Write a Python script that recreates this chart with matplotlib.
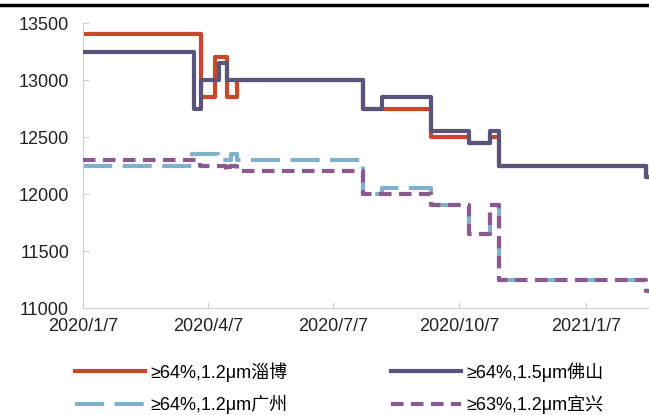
import numpy as np
import pandas as pd
import matplotlib
matplotlib.use('Agg')
import matplotlib.pyplot as plt
import matplotlib.dates as mdates
from matplotlib.lines import Line2D

plt.rcParams['font.family'] = ['Liberation Sans', 'Noto Sans CJK SC', 'DejaVu Sans']

# price steps: value holds from each date until the next one
red_dates = ['2020-01-07', '2020-04-02', '2020-04-12', '2020-04-21', '2020-04-28', '2020-07-29',
             '2020-09-16', '2020-10-14', '2020-10-29', '2020-11-05', '2021-02-20']
red_vals = [13400, 12850, 13200, 12850, 13000, 12750, 12500, 12450, 12500, 12250, 12150]

navy_dates = ['2020-01-07', '2020-03-28', '2020-04-02', '2020-04-15', '2020-04-21', '2020-07-29',
              '2020-08-12', '2020-09-16', '2020-10-14', '2020-10-29', '2020-11-05', '2021-02-20']
navy_vals = [13250, 12750, 13000, 13150, 13000, 12750, 12850, 12550, 12450, 12550, 12250, 12150]

blue_dates = ['2020-01-07', '2020-03-26', '2020-04-14', '2020-04-24', '2020-04-28', '2020-07-29',
              '2020-08-12', '2020-09-16', '2020-10-14', '2020-10-29', '2020-11-05', '2021-02-20']
blue_vals = [12250, 12350, 12300, 12350, 12300, 12000, 12050, 11900, 11650, 11900, 11250, 11150]

purple_dates = ['2020-01-07', '2020-04-01', '2020-04-20', '2020-04-23', '2020-04-28', '2020-07-29',
                '2020-09-16', '2020-10-14', '2020-10-29', '2020-11-05', '2021-02-20']
purple_vals = [12300, 12250, 12200, 12250, 12200, 12000, 11900, 11650, 11900, 11250, 11150]

names = ['≥64%,1.2μm淄博', '≥64%,1.5μm佛山', '≥64%,1.2μm广州', '≥63%,1.2μm宜兴']
tick_dates = ['2020-01-07', '2020-04-07', '2020-07-07', '2020-10-07', '2021-01-07']
tick_labels = ['2020/1/7', '2020/4/7', '2020/7/7', '2020/10/7', '2021/1/7']
end_date = '2021-02-22'


def steps(dates, vals):
    x = pd.to_datetime(dates + [end_date])
    y = vals + [vals[-1]]
    return x, y


my_dpi = 100
fig = plt.figure(figsize=(649/my_dpi, 415/my_dpi), dpi=my_dpi)
ax = fig.add_axes([83/649, 1-308/415, 1-83/649, 285/415])

x, y = steps(red_dates, red_vals)
l1, = ax.step(x, y, where='post', color='#C9482A', lw=3, solid_joinstyle='round', zorder=2)
x, y = steps(navy_dates, navy_vals)
l2, = ax.step(x, y, where='post', color='#58547A', lw=3, solid_joinstyle='round', zorder=3)
x, y = steps(blue_dates, blue_vals)
l3, = ax.step(x, y, where='post', color='#80B1C9', lw=3, dashes=(7, 2.5), zorder=2)
x, y = steps(purple_dates, purple_vals)
l4, = ax.step(x, y, where='post', color='#8A5A8F', lw=3, dashes=(3, 1.8), zorder=3)

ax.set_ylim(11000, 13500)
ax.set_yticks([11000, 11500, 12000, 12500, 13000, 13500])
ax.set_xlim(pd.Timestamp('2020-01-07'), pd.Timestamp(end_date))
ax.set_xticks(pd.to_datetime(tick_dates))
ax.set_xticklabels(tick_labels)

for s in ['top', 'right']:
    ax.spines[s].set_visible(False)
for s in ['left', 'bottom']:
    ax.spines[s].set_color('#D0D0D0')
ax.tick_params(direction='in', length=4, color='#D0D0D0', labelsize=13, labelcolor='#222222')
ax.tick_params(axis='y', pad=10)
ax.tick_params(axis='x', pad=7)

fig.legend([l1, l3, l2, l4], [names[0], names[2], names[1], names[3]], ncol=2,
           loc='upper left', bbox_to_anchor=(75/649, 1-362/415), frameon=False,
           fontsize=13, handlelength=3.9, handletextpad=0.3, columnspacing=5.7,
           labelspacing=0.75, borderpad=0, borderaxespad=0)

# header rule at the top
fig.add_artist(Line2D([0, 1], [1-5/415, 1-5/415], transform=fig.transFigure, color='black', lw=2.5))

plt.savefig('out.png', dpi=my_dpi)
